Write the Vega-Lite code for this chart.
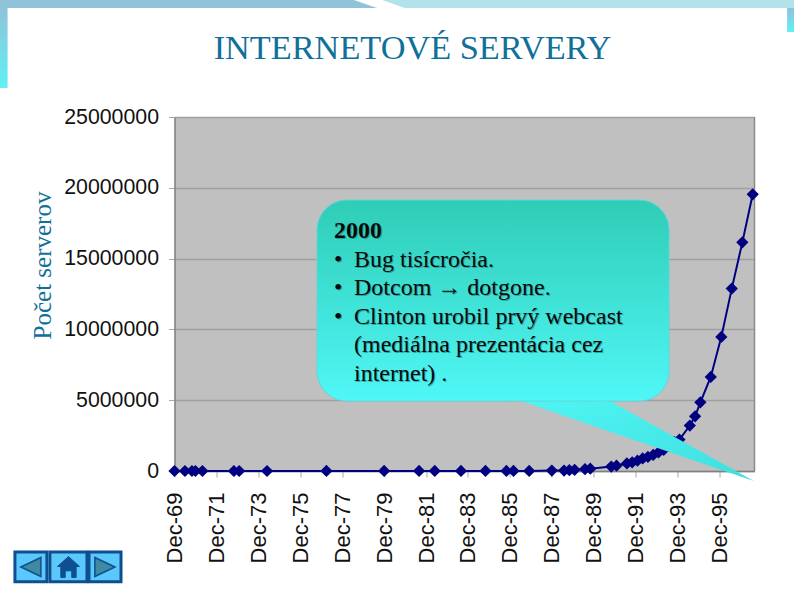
{
"$schema":"https://vega.github.io/schema/vega-lite/v6.json",
"width":580,"height":354,
"autosize":"none",
"padding":{"left":174.5,"top":117,"right":39.5,"bottom":124},
"background":"white",
"title":{"text":"INTERNETOVÉ SERVERY","font":"Liberation Serif","fontSize":34.3,"fontWeight":"normal","color":"#10709a","anchor":"middle","dx":-52,"offset":-66},
"config":{"view":{"fill":"#c0c0c0","stroke":null}},
"datasets":{
"servers":[
{"date":"1969-12-01","servers":4},{"date":"1970-06-01","servers":9},{"date":"1970-10-01","servers":11},{"date":"1970-12-01","servers":13},{"date":"1971-04-01","servers":23},{"date":"1972-10-01","servers":31},{"date":"1973-01-01","servers":35},{"date":"1974-05-01","servers":62},{"date":"1977-03-01","servers":111},{"date":"1979-12-01","servers":188},{"date":"1981-08-01","servers":213},{"date":"1982-05-01","servers":235},{"date":"1983-08-01","servers":562},{"date":"1984-10-01","servers":1024},{"date":"1985-10-01","servers":1961},{"date":"1986-02-01","servers":2308},{"date":"1986-11-01","servers":5089},{"date":"1987-12-01","servers":28174},{"date":"1988-07-01","servers":33000},{"date":"1988-10-01","servers":56000},{"date":"1989-01-01","servers":80000},{"date":"1989-07-01","servers":130000},{"date":"1989-10-01","servers":159000},{"date":"1990-10-01","servers":313000},{"date":"1991-01-01","servers":376000},{"date":"1991-07-01","servers":535000},{"date":"1991-10-01","servers":617000},{"date":"1992-01-01","servers":727000},{"date":"1992-04-01","servers":890000},{"date":"1992-07-01","servers":992000},{"date":"1992-10-01","servers":1136000},{"date":"1993-01-01","servers":1313000},{"date":"1993-04-01","servers":1486000},{"date":"1993-07-01","servers":1776000},{"date":"1993-10-01","servers":2056000},{"date":"1994-01-01","servers":2217000},{"date":"1994-07-01","servers":3212000},{"date":"1994-10-01","servers":3864000},{"date":"1995-01-01","servers":4852000},{"date":"1995-07-01","servers":6642000},{"date":"1996-01-01","servers":9472000},{"date":"1996-07-01","servers":12881000},{"date":"1997-01-01","servers":16146000},{"date":"1997-07-01","servers":19540000}
],
"note":[
{"date":"1977-07-11","servers":14900000,"label":"•"},
{"date":"1978-06-25","servers":14900000,"label":"Bug tisícročia."},
{"date":"1977-07-11","servers":12920000,"label":"•"},
{"date":"1978-06-25","servers":12920000,"label":"Dotcom → dotgone."},
{"date":"1977-07-11","servers":10880000,"label":"•"},
{"date":"1978-06-25","servers":10880000,"label":"Clinton urobil prvý webcast"},
{"date":"1978-06-25","servers":8900000,"label":"(mediálna prezentácia cez"},
{"date":"1978-06-25","servers":6850000,"label":"internet) ."}
],
"head":[{"date":"1977-07-11","servers":16950000,"label":"2000"}]
},
"encoding":{
"x":{"field":"date","type":"temporal","scale":{"type":"utc","domain":["1969-12-01","1997-08-01"]}},
"y":{"field":"servers","type":"quantitative","scale":{"domain":[0,25000000]}}
},
"layer":[
{"data":{"values":[
{"d":"1961-08-04","top":33260000,"bot":32700000},{"d":"1978-06-25","top":33260000,"bot":32700000},{"d":"1979-07-30","top":32700000,"bot":32700000}
]},
"mark":{"type":"area","clip":false,"interpolate":"linear","fill":"#8fc3da","stroke":null},
"encoding":{"x":{"field":"d","type":"temporal","scale":{"type":"utc","domain":["1969-12-01","1997-08-01"]}},"y":{"field":"top","type":"quantitative","scale":{"domain":[0,25000000]}},"y2":{"field":"bot"}}},
{"data":{"values":[
{"d":"1979-10-25","top":33260000,"bot":33260000},{"d":"1980-11-30","top":33260000,"bot":32700000},{"d":"1999-06-24","top":33260000,"bot":32700000}
]},
"mark":{"type":"area","clip":false,"interpolate":"linear","fill":"#b3e3ea","stroke":null},
"encoding":{"x":{"field":"d","type":"temporal","scale":{"type":"utc","domain":["1969-12-01","1997-08-01"]}},"y":{"field":"top","type":"quantitative","scale":{"domain":[0,25000000]}},"y2":{"field":"bot"}}},
{"data":{"values":[
{"a":"1961-08-04","b":"1961-12-15","t":32700000,"u":27050000},
{"a":"1999-02-20","b":"1999-06-24","t":32700000,"u":31000000}
]},
"mark":{"type":"rect","clip":false,"fill":{"x1":0,"y1":0,"x2":0,"y2":1,"gradient":"linear","stops":[{"offset":0,"color":"#8fc3da"},{"offset":1,"color":"#5ff0f5"}]}},
"encoding":{"x":{"field":"a","type":"temporal","scale":{"type":"utc","domain":["1969-12-01","1997-08-01"]}},"x2":{"field":"b"},"y":{"field":"t","type":"quantitative","scale":{"domain":[0,25000000]}},"y2":{"field":"u"}}},
{"data":{"name":"servers"},"mark":{"type":"rule","strokeWidth":0,"opacity":0},
"encoding":{
"x":{"field":"date","type":"temporal","title":null,"scale":{"type":"utc","domain":["1969-12-01","1997-08-01"]},
"axis":{"values":["1969-12-01","1971-12-01","1973-12-01","1975-12-01","1977-12-01","1979-12-01","1981-12-01","1983-12-01","1985-12-01","1987-12-01","1989-12-01","1991-12-01","1993-12-01","1995-12-01"],"labelExpr":"utcFormat(datum.value,'%b-%y')","labelAngle":-90,"labelAlign":"right","labelBaseline":"middle","labelFont":"Liberation Sans","labelFontSize":22,"labelColor":"#111111","labelPadding":15,"tickColor":"#a8a8a8","tickSize":6,"tickWidth":1,"domainColor":"#808080","domainWidth":1.5,"grid":false,"labelOverlap":false,"labelBound":false,"labelFlush":false}},
"y":{"field":"servers","type":"quantitative","title":"Počet serverov","scale":{"domain":[0,25000000]},
"axis":{"values":[0,5000000,10000000,15000000,20000000,25000000],"format":"d","labelFont":"Liberation Sans","labelFontSize":21.3,"labelColor":"#111111","labelPadding":10,"tickColor":"#a8a8a8","tickSize":6,"tickWidth":1,"domainColor":"#808080","domainWidth":1.5,"grid":true,"gridColor":"#a0a0a0","gridWidth":1.5,"titleFont":"Liberation Serif","titleFontSize":25,"titleFontWeight":"normal","titleColor":"#10709a","titleAngle":-90,"titleX":-132,"titleY":148,"titleAlign":"center","titleBaseline":"middle"}}
}},
{"data":{"values":[{"a":"1997-08-01","b":0,"c":25000000}]},
"mark":{"type":"rule","color":"#8a8a8a","strokeWidth":1.5},
"encoding":{"x":{"field":"a","type":"temporal","scale":{"type":"utc","domain":["1969-12-01","1997-08-01"]}},"y":{"field":"b","type":"quantitative","scale":{"domain":[0,25000000]}},"y2":{"field":"c"}}},
{"data":{"name":"servers"},"mark":{"type":"line","color":"#000080","strokeWidth":2,"clip":false}},
{"data":{"name":"servers"},"mark":{"type":"point","shape":"diamond","filled":true,"fill":"#000080","color":"#000080","opacity":1,"size":150,"clip":false}},
{"data":{"values":[{"d":"1986-06-13","top":4940000,"bot":4940000},{"d":"1990-09-11","top":4940000,"bot":2768000},{"d":"1997-07-20","top":-706000,"bot":-706000}]},
"mark":{"type":"area","clip":false,"interpolate":"linear","fill":{"x1":0,"y1":0,"x2":1,"y2":1,"gradient":"linear","stops":[{"offset":0,"color":"#4ff5f3"},{"offset":1,"color":"#3fdfe0"}]},"stroke":null},
"encoding":{"x":{"field":"d","type":"temporal","scale":{"type":"utc","domain":["1969-12-01","1997-08-01"]}},"y":{"field":"top","type":"quantitative","scale":{"domain":[0,25000000]}},"y2":{"field":"bot"}}},
{"data":{"values":[{"a":"1976-09-18","b":"1993-07-05","t":19138000,"u":4940000}]},
"mark":{"type":"rect","cornerRadius":30,"clip":false,"fill":{"x1":0,"y1":0,"x2":0,"y2":1,"gradient":"linear","stops":[{"offset":0,"color":"#2fcdb6"},{"offset":1,"color":"#50f7f7"}]},"stroke":"#63d6d8","strokeWidth":1},
"encoding":{"x":{"field":"a","type":"temporal","scale":{"type":"utc","domain":["1969-12-01","1997-08-01"]}},"x2":{"field":"b"},"y":{"field":"t","type":"quantitative","scale":{"domain":[0,25000000]}},"y2":{"field":"u"}}},
{"data":{"name":"note"},"mark":{"type":"text","align":"left","baseline":"middle","font":"Liberation Serif","fontSize":24,"color":"#1a7f7a","opacity":0.6,"dx":1,"dy":1,"clip":false},
"encoding":{"text":{"field":"label"}}},
{"data":{"name":"note"},"mark":{"type":"text","align":"left","baseline":"middle","font":"Liberation Serif","fontSize":24,"color":"#0a0a0a","clip":false},
"encoding":{"text":{"field":"label"}}},
{"data":{"name":"head"},"mark":{"type":"text","align":"left","baseline":"middle","font":"Liberation Serif","fontSize":24,"fontWeight":"bold","color":"#1a7f7a","opacity":0.6,"dx":1,"dy":1,"clip":false},
"encoding":{"text":{"field":"label"}}},
{"data":{"name":"head"},"mark":{"type":"text","align":"left","baseline":"middle","font":"Liberation Serif","fontSize":24,"fontWeight":"bold","color":"#0a0a0a","clip":false},
"encoding":{"text":{"field":"label"}}},
{"data":{"values":[{"a":"1962-04-22","b":"1963-10-31","t":-5720000,"u":-7820000},{"a":"1963-12-22","b":"1965-09-28","t":-5720000,"u":-7820000},{"a":"1965-11-02","b":"1967-05-14","t":-5720000,"u":-7820000}]},
"mark":{"type":"rect","clip":false,"fill":"#5ac8fa","stroke":"#0d4f8f","strokeWidth":3},
"encoding":{"x":{"field":"a","type":"temporal","scale":{"type":"utc","domain":["1969-12-01","1997-08-01"]}},"x2":{"field":"b"},"y":{"field":"t","type":"quantitative","scale":{"domain":[0,25000000]}},"y2":{"field":"u"}}},
{"data":{"values":[{"d":"1963-01-24","v":-6780000}]},
"mark":{"type":"point","shape":"M0.9,-0.85 L-0.9,0 L0.9,0.85 Z","filled":true,"fill":"#3f8aa0","stroke":"#0d4f8f","strokeWidth":1.5,"opacity":1,"size":500,"clip":false},
"encoding":{"x":{"field":"d","type":"temporal","scale":{"type":"utc","domain":["1969-12-01","1997-08-01"]}},"y":{"field":"v","type":"quantitative","scale":{"domain":[0,25000000]}}}},
{"data":{"values":[{"d":"1966-08-07","v":-6780000}]},
"mark":{"type":"point","shape":"M-0.9,-0.85 L0.9,0 L-0.9,0.85 Z","filled":true,"fill":"#3f8aa0","stroke":"#0d4f8f","strokeWidth":1.5,"opacity":1,"size":500,"clip":false},
"encoding":{"x":{"field":"d","type":"temporal","scale":{"type":"utc","domain":["1969-12-01","1997-08-01"]}},"y":{"field":"v","type":"quantitative","scale":{"domain":[0,25000000]}}}},
{"data":{"values":[{"d":"1964-11-10","v":-6780000}]},
"mark":{"type":"point","shape":"M-1,-0.05 L0,-0.95 L1,-0.05 L0.7,-0.05 L0.7,0.95 L0.3,0.95 L0.3,0.35 L-0.3,0.35 L-0.3,0.95 L-0.7,0.95 L-0.7,-0.05 Z","filled":true,"fill":"#0d4f8f","stroke":"#0d4f8f","strokeWidth":1,"opacity":1,"size":480,"clip":false},
"encoding":{"x":{"field":"d","type":"temporal","scale":{"type":"utc","domain":["1969-12-01","1997-08-01"]}},"y":{"field":"v","type":"quantitative","scale":{"domain":[0,25000000]}}}}
]
}
